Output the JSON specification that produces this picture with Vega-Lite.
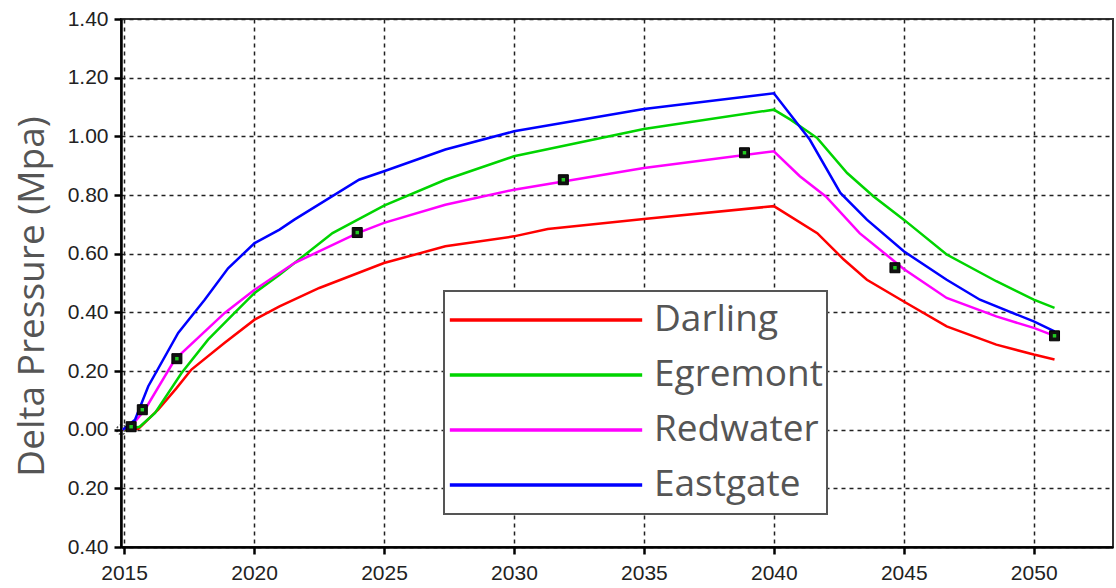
{
  "$schema": "https://vega.github.io/schema/vega-lite/v6.json",
  "autosize": "none",
  "width": 992,
  "height": 528,
  "padding": {"left": 121, "top": 19, "right": 3, "bottom": 41},
  "background": "white",
  "config": {
    "view": {"stroke": "#333", "strokeWidth": 2},
    "axis": {
      "domainColor": "#000", "domainWidth": 2.5,
      "tickColor": "#000", "tickWidth": 2.5, "tickSize": 7,
      "gridColor": "#222", "gridDash": [4, 4], "gridWidth": 1.5, "gridOpacity": 1,
      "labelFont": "Liberation Sans", "labelFontSize": 21, "labelColor": "#222"
    },
    "legend": {
      "orient": "none", "legendX": 323, "legendY": 272,
      "padding": 4, "strokeColor": "#555", "strokeWidth": 2, "fillColor": "white",
      "symbolType": "stroke", "symbolSize": 37000, "symbolStrokeWidth": 3.5,
      "clipHeight": 50, "rowPadding": 5, "labelOffset": 10,
      "labelFont": "Open Sans", "labelFontSize": 37, "labelColor": "#555", "labelLimit": 400
    }
  },
  "datasets": {
    "sim": [
      {"site": "Darling", "year": 2014.95, "dp": 0.0},
      {"site": "Darling", "year": 2015.55, "dp": 0.003},
      {"site": "Darling", "year": 2016.31, "dp": 0.068},
      {"site": "Darling", "year": 2017.0, "dp": 0.14},
      {"site": "Darling", "year": 2017.59, "dp": 0.205},
      {"site": "Darling", "year": 2018.87, "dp": 0.296},
      {"site": "Darling", "year": 2020.02, "dp": 0.375},
      {"site": "Darling", "year": 2020.98, "dp": 0.42},
      {"site": "Darling", "year": 2022.51, "dp": 0.483},
      {"site": "Darling", "year": 2025.0, "dp": 0.568},
      {"site": "Darling", "year": 2027.36, "dp": 0.625},
      {"site": "Darling", "year": 2030.0, "dp": 0.659},
      {"site": "Darling", "year": 2031.3, "dp": 0.684},
      {"site": "Darling", "year": 2035.0, "dp": 0.718},
      {"site": "Darling", "year": 2040.0, "dp": 0.762},
      {"site": "Darling", "year": 2041.67, "dp": 0.67},
      {"site": "Darling", "year": 2042.69, "dp": 0.58},
      {"site": "Darling", "year": 2043.58, "dp": 0.511},
      {"site": "Darling", "year": 2045.0, "dp": 0.437},
      {"site": "Darling", "year": 2046.65, "dp": 0.352},
      {"site": "Darling", "year": 2048.56, "dp": 0.29},
      {"site": "Darling", "year": 2050.0, "dp": 0.256},
      {"site": "Darling", "year": 2050.8, "dp": 0.239},
      {"site": "Egremont", "year": 2014.95, "dp": 0.0},
      {"site": "Egremont", "year": 2015.6, "dp": 0.01},
      {"site": "Egremont", "year": 2016.19, "dp": 0.057},
      {"site": "Egremont", "year": 2017.21, "dp": 0.193},
      {"site": "Egremont", "year": 2018.23, "dp": 0.307},
      {"site": "Egremont", "year": 2019.25, "dp": 0.398},
      {"site": "Egremont", "year": 2020.02, "dp": 0.466},
      {"site": "Egremont", "year": 2020.98, "dp": 0.528},
      {"site": "Egremont", "year": 2023.02, "dp": 0.67},
      {"site": "Egremont", "year": 2025.0, "dp": 0.764},
      {"site": "Egremont", "year": 2027.36, "dp": 0.852},
      {"site": "Egremont", "year": 2030.0, "dp": 0.932},
      {"site": "Egremont", "year": 2035.0, "dp": 1.025},
      {"site": "Egremont", "year": 2040.0, "dp": 1.091},
      {"site": "Egremont", "year": 2040.64, "dp": 1.057},
      {"site": "Egremont", "year": 2041.67, "dp": 0.994},
      {"site": "Egremont", "year": 2042.82, "dp": 0.875},
      {"site": "Egremont", "year": 2043.84, "dp": 0.795},
      {"site": "Egremont", "year": 2045.0, "dp": 0.716},
      {"site": "Egremont", "year": 2046.65, "dp": 0.597},
      {"site": "Egremont", "year": 2048.56, "dp": 0.506},
      {"site": "Egremont", "year": 2050.0, "dp": 0.443},
      {"site": "Egremont", "year": 2050.8, "dp": 0.415},
      {"site": "Redwater", "year": 2014.95, "dp": 0.0},
      {"site": "Redwater", "year": 2015.3, "dp": 0.015},
      {"site": "Redwater", "year": 2015.8, "dp": 0.068},
      {"site": "Redwater", "year": 2016.95, "dp": 0.239},
      {"site": "Redwater", "year": 2018.87, "dp": 0.398},
      {"site": "Redwater", "year": 2020.02, "dp": 0.477},
      {"site": "Redwater", "year": 2020.98, "dp": 0.534},
      {"site": "Redwater", "year": 2021.55, "dp": 0.568},
      {"site": "Redwater", "year": 2023.98, "dp": 0.67},
      {"site": "Redwater", "year": 2025.0, "dp": 0.705},
      {"site": "Redwater", "year": 2027.36, "dp": 0.767},
      {"site": "Redwater", "year": 2030.0, "dp": 0.818},
      {"site": "Redwater", "year": 2035.0, "dp": 0.892},
      {"site": "Redwater", "year": 2040.0, "dp": 0.949},
      {"site": "Redwater", "year": 2041.0, "dp": 0.864},
      {"site": "Redwater", "year": 2042.0, "dp": 0.795},
      {"site": "Redwater", "year": 2043.3, "dp": 0.67},
      {"site": "Redwater", "year": 2045.0, "dp": 0.548},
      {"site": "Redwater", "year": 2046.65, "dp": 0.449},
      {"site": "Redwater", "year": 2048.56, "dp": 0.386},
      {"site": "Redwater", "year": 2050.0, "dp": 0.347},
      {"site": "Redwater", "year": 2050.8, "dp": 0.32},
      {"site": "Eastgate", "year": 2014.95, "dp": 0.0},
      {"site": "Eastgate", "year": 2015.42, "dp": 0.034},
      {"site": "Eastgate", "year": 2015.93, "dp": 0.148},
      {"site": "Eastgate", "year": 2017.08, "dp": 0.33},
      {"site": "Eastgate", "year": 2018.1, "dp": 0.443},
      {"site": "Eastgate", "year": 2019.0, "dp": 0.55},
      {"site": "Eastgate", "year": 2020.02, "dp": 0.636},
      {"site": "Eastgate", "year": 2020.98, "dp": 0.682},
      {"site": "Eastgate", "year": 2021.55, "dp": 0.716},
      {"site": "Eastgate", "year": 2024.04, "dp": 0.852},
      {"site": "Eastgate", "year": 2025.0, "dp": 0.881},
      {"site": "Eastgate", "year": 2027.36, "dp": 0.955},
      {"site": "Eastgate", "year": 2030.0, "dp": 1.017},
      {"site": "Eastgate", "year": 2035.0, "dp": 1.093},
      {"site": "Eastgate", "year": 2040.0, "dp": 1.147},
      {"site": "Eastgate", "year": 2041.38, "dp": 0.989},
      {"site": "Eastgate", "year": 2042.56, "dp": 0.807},
      {"site": "Eastgate", "year": 2043.58, "dp": 0.716},
      {"site": "Eastgate", "year": 2045.0, "dp": 0.608},
      {"site": "Eastgate", "year": 2046.65, "dp": 0.511},
      {"site": "Eastgate", "year": 2047.93, "dp": 0.443},
      {"site": "Eastgate", "year": 2050.0, "dp": 0.369},
      {"site": "Eastgate", "year": 2050.8, "dp": 0.335}
    ],
    "obs": [
      {"year": 2015.27, "dp": 0.01},
      {"year": 2015.7, "dp": 0.068},
      {"year": 2017.03, "dp": 0.242},
      {"year": 2023.97, "dp": 0.672},
      {"year": 2031.9, "dp": 0.852},
      {"year": 2038.87, "dp": 0.944},
      {"year": 2044.66, "dp": 0.552},
      {"year": 2050.8, "dp": 0.32}
    ],
    "start": [
      {"year": 2014.9, "dp": 0.0}
    ]
  },
  "layer": [
    {
      "data": {"name": "sim"},
      "mark": {"type": "line", "strokeWidth": 2.5, "interpolate": "linear"},
      "encoding": {
        "x": {
          "field": "year", "type": "quantitative",
          "scale": {"domain": [2014.88, 2053.05], "nice": false, "zero": false},
          "axis": {
            "title": null, "values": [2015, 2020, 2025, 2030, 2035, 2040, 2045, 2050],
            "format": "d", "labelPadding": 8, "labelFlush": false
          }
        },
        "y": {
          "field": "dp", "type": "quantitative",
          "scale": {"domain": [-0.4, 1.4], "nice": false, "zero": false},
          "axis": {
            "title": "Delta Pressure (Mpa)",
            "values": [-0.4, -0.2, 0, 0.2, 0.4, 0.6, 0.8, 1.0, 1.2, 1.4],
            "labelExpr": "format(abs(datum.value), '.2f')",
            "labelPadding": 6, "labelFlush": false,
            "titleFont": "Open Sans", "titleFontSize": 37, "titleFontWeight": "normal",
            "titleColor": "#555", "titleX": -89, "titleY": 277, "titleAngle": 270,
            "titleAlign": "center", "titleBaseline": "middle"
          }
        },
        "color": {
          "field": "site", "type": "nominal",
          "scale": {
            "domain": ["Darling", "Egremont", "Redwater", "Eastgate"],
            "range": ["#ff0000", "#00d400", "#ff00ff", "#0000ff"]
          },
          "legend": {"title": null}
        }
      }
    },
    {
      "data": {"name": "start"},
      "mark": {"type": "point", "shape": "circle", "size": 90, "filled": false, "stroke": "#000", "strokeWidth": 1.5, "strokeDash": [2, 2]},
      "encoding": {
        "x": {"field": "year", "type": "quantitative"},
        "y": {"field": "dp", "type": "quantitative"}
      }
    },
    {
      "data": {"name": "obs"},
      "mark": {"type": "point", "shape": "square", "size": 100, "filled": true, "fill": "#111", "stroke": "#000", "strokeWidth": 1, "opacity": 1},
      "encoding": {
        "x": {"field": "year", "type": "quantitative"},
        "y": {"field": "dp", "type": "quantitative"}
      }
    },
    {
      "data": {"name": "obs"},
      "mark": {"type": "point", "shape": "square", "size": 12, "filled": true, "fill": "#22cc22", "opacity": 1},
      "encoding": {
        "x": {"field": "year", "type": "quantitative"},
        "y": {"field": "dp", "type": "quantitative"}
      }
    }
  ]
}
